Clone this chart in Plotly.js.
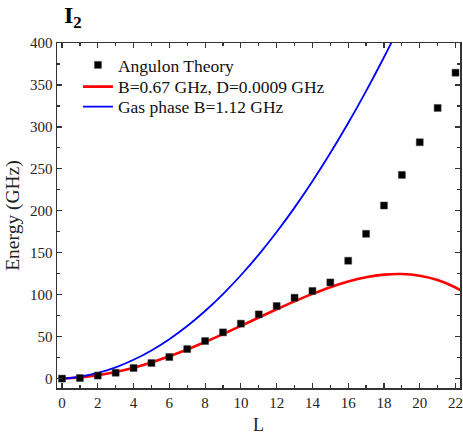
<!DOCTYPE html>
<html>
<head>
<meta charset="utf-8">
<script src="https://cdn.plot.ly/plotly-3.0.1.min.js"></script>
<style>html,body{margin:0;padding:0;background:#fff;}#chart{width:463px;height:435px;}</style>
</head>
<body>
<div id="chart"></div>
<script>
// Angulon theory data points
const L_points = [0,1,2,3,4,5,6,7,8,9,10,11,12,13,14,15,16,17,18,19,20,21,22];
const E_points = [0,0.7,3.6,7,12.6,18.6,25.7,35.2,44.8,55.1,65.5,76.5,86.5,96.4,104.5,114.6,140.5,172.6,206.3,242.8,281.7,322.6,364.6];

// Fitted curve B=0.67 GHz, D=0.0009 GHz
const L_fit = [0,1,2,3,4,5,6,7,8,9,10,11,12,13,14,15,16,17,18,19,20,21,22,22.5];
const E_fit = [0,1.3,4.0,7.9,13.0,19.3,26.6,34.7,43.6,53.0,62.8,72.8,82.6,92.1,101.0,109.0,115.7,120.8,123.9,124.6,122.6,117.4,108.6,102.6];

// Gas phase curve B=1.12 GHz
const L_gas = [0,1,2,3,4,5,6,7,8,9,10,11,12,13,14,15,16,17,18,19];
const E_gas = [0,2.2,6.7,13.4,22.4,33.6,47.0,62.7,80.6,100.8,123.2,147.8,174.7,203.8,235.2,268.8,304.6,342.7,383.0,425.6];

const names = ['Angulon Theory','B=0.67 GHz, D=0.0009 GHz','Gas phase B=1.12 GHz'];

const traces = [
  {x:L_points, y:E_points, mode:'markers', type:'scatter', name:names[0], legend:'legend',
   marker:{symbol:'square', size:7, color:'#000', line:{color:'#444', width:0.5}}},
  {x:L_fit, y:E_fit, mode:'lines', type:'scatter', name:names[1], legend:'legend2',
   line:{color:'#ff0000', width:2.6, shape:'spline'}},
  {x:L_gas, y:E_gas, mode:'lines', type:'scatter', name:names[2], legend:'legend3',
   line:{color:'#0000ff', width:1.8, shape:'spline'}}
];
// draw markers above lines
const ordered = [traces[1], traces[2], traces[0]];

const fontFam = '"Liberation Serif", "Times New Roman", serif';
const legFont = {family:fontFam, size:17.5, color:'#111'};
function leg(y){ return {x:0.052, y:y, xanchor:'left', yanchor:'middle', bgcolor:'rgba(0,0,0,0)',
                         font:legFont, itemwidth:30}; }
const layout = {
  width:463, height:435,
  margin:{l:57, r:3, t:43, b:47},
  paper_bgcolor:'#ffffff', plot_bgcolor:'#ffffff',
  font:{family:fontFam, color:'#222', size:15},
  showlegend:true,
  title:{text:'<b>I<sub>2</sub></b>', font:{family:fontFam, size:24, color:'#000'},
         xref:'container', yref:'container', x:0.138, xanchor:'left', y:0.985, yanchor:'top'},
  legend:leg(0.9362), legend2:leg(0.8733), legend3:leg(0.8154),
  xaxis:{range:[-0.28,22.25], dtick:2, tick0:0, ticks:'inside', ticklen:5, tickwidth:1.2,
         tickcolor:'#333', showline:true, linecolor:'#333', linewidth:1.5, mirror:'allticks',
         showgrid:false, zeroline:false, ticklabeloverflow:'allow',
         tickfont:{family:fontFam, size:15, color:'#222'},
         minor:{dtick:1, ticks:'inside', ticklen:3, tickwidth:1.2, tickcolor:'#333', showgrid:false},
         title:{text:'L', font:{family:fontFam, size:18, color:'#222'}, standoff:11}},
  yaxis:{range:[-11.2,400], dtick:50, tick0:0, ticks:'inside', ticklen:5, tickwidth:1.2,
         tickcolor:'#333', showline:true, linecolor:'#333', linewidth:1.5, mirror:'allticks',
         showgrid:false, zeroline:false, ticklabeloverflow:'allow',
         tickfont:{family:fontFam, size:15, color:'#222'},
         minor:{dtick:25, ticks:'inside', ticklen:3, tickwidth:1.2, tickcolor:'#333', showgrid:false},
         title:{text:'Energy (GHz)', font:{family:fontFam, size:19.5, color:'#222'}, standoff:5}}
};
Plotly.newPlot('chart', ordered, layout, {displayModeBar:false, staticPlot:true});
</script>
</body>
</html>
